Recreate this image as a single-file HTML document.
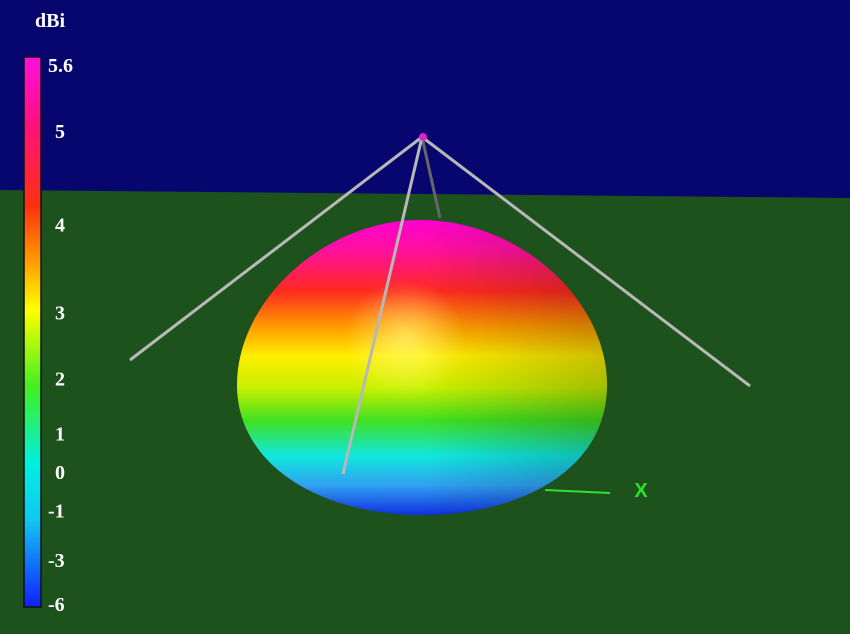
<!DOCTYPE html>
<html><head><meta charset="utf-8"><style>
html,body{margin:0;padding:0;background:#06066e;}
svg{display:block;font-family:"Liberation Serif",serif;}
</style></head><body>
<svg id="c" width="850" height="634" viewBox="0 0 850 634">
<defs>
<linearGradient id="dg" x1="0" y1="220" x2="0" y2="515" gradientUnits="userSpaceOnUse">
<stop offset="0" stop-color="#ff00d0"/><stop offset="0.1" stop-color="#ff10a0"/>
<stop offset="0.24" stop-color="#ff2a20"/><stop offset="0.36" stop-color="#ff9a00"/>
<stop offset="0.46" stop-color="#ffee00"/><stop offset="0.57" stop-color="#c8f000"/>
<stop offset="0.68" stop-color="#40e020"/><stop offset="0.8" stop-color="#10e8e0"/>
<stop offset="0.9" stop-color="#30a0f0"/><stop offset="1" stop-color="#1030e0"/>
</linearGradient>
<radialGradient id="hl" cx="405" cy="340" r="60" gradientUnits="userSpaceOnUse">
<stop offset="0" stop-color="#ffff90" stop-opacity="0.6"/><stop offset="1" stop-color="#ffff90" stop-opacity="0"/>
</radialGradient>
<linearGradient id="sh" x1="237" y1="0" x2="607" y2="0" gradientUnits="userSpaceOnUse">
<stop offset="0.5" stop-color="#000" stop-opacity="0"/><stop offset="1" stop-color="#000" stop-opacity="0.2"/>
</linearGradient>
<linearGradient id="cb" x1="0" y1="57" x2="0" y2="607" gradientUnits="userSpaceOnUse">
<stop offset="0" stop-color="#ff10e0"/><stop offset="0.12" stop-color="#ff1080"/>
<stop offset="0.27" stop-color="#ff3010"/><stop offset="0.36" stop-color="#ff9000"/>
<stop offset="0.46" stop-color="#ffff00"/><stop offset="0.6" stop-color="#40f020"/>
<stop offset="0.74" stop-color="#00f0e0"/><stop offset="0.84" stop-color="#10c8f0"/>
<stop offset="1" stop-color="#1020ff"/>
</linearGradient>
<path id="dome" d="M237,385 C237,300 325,220 420,220 C520,220 607,300 607,385 C607,470 520,515 422,515 C320,515 237,465 237,385 Z"/>
</defs>
<rect x="0" y="0" width="850" height="634" fill="#06066e"/>
<polygon points="0,190 850,198 850,634 0,634" fill="#1d521d"/>
<line x1="422" y1="137" x2="440" y2="218" stroke="#666" stroke-width="3"/>
<use href="#dome" fill="url(#dg)"/>
<use href="#dome" fill="url(#hl)"/>
<use href="#dome" fill="url(#sh)"/>
<g stroke="#b8b8b8" stroke-width="3" fill="none">
<line x1="422" y1="137" x2="130" y2="360"/>
<line x1="422" y1="137" x2="750" y2="386"/>
<line x1="422" y1="137" x2="343" y2="474"/>
</g>
<circle cx="423" cy="137" r="4" fill="#e020d0"/>
<line x1="545" y1="490" x2="610" y2="493" stroke="#30e030" stroke-width="2"/>
<text x="641" y="497" fill="#30e030" font-family="Liberation Sans,sans-serif" font-weight="bold" font-size="20" text-anchor="middle">X</text>
<text x="50" y="27" fill="#fff" font-weight="bold" font-size="20" text-anchor="middle">dBi</text>
<rect x="24" y="57" width="17" height="550" fill="url(#cb)" stroke="#111" stroke-width="1.5"/>
<g id="ticks"></g>
</svg>
<script>
const tickLabels=["5.6","5","4","3","2","1","0","-1","-3","-6"];
const tickPos=[0,0.12,0.29,0.45,0.57,0.67,0.74,0.81,0.9,0.98];
const g=document.getElementById('ticks');
tickLabels.forEach((t,i)=>{
 const el=document.createElementNS('http://www.w3.org/2000/svg','text');
 
 
 el.setAttribute('x', (t.length>1)?48:55);
 el.setAttribute('y',57+tickPos[i]*550+15);
 el.setAttribute('fill','#fff');el.setAttribute('font-weight','bold');el.setAttribute('font-size','20');
 el.textContent=t;g.appendChild(el);
});
</script>
</body></html>
